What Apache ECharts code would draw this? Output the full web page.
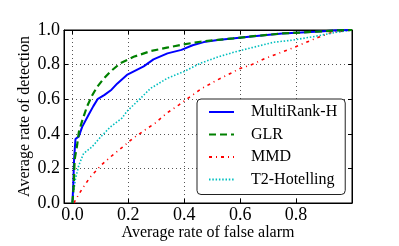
<!DOCTYPE html>
<html>
<head>
<meta charset="utf-8">
<script src="https://cdn.jsdelivr.net/npm/echarts@6/dist/echarts.min.js"></script>
<style>html,body{margin:0;padding:0;background:#fff;}#c{width:399px;height:246px;}</style>
</head>
<body>
<div id="c"></div>
<script>
var seriesNames = ['MultiRank-H', 'GLR', 'MMD', 'T2-Hotelling'];
var xTicks = [0, 0.2, 0.4, 0.6, 0.8];
var yTicks = [0, 0.2, 0.4, 0.6, 0.8, 1.0];

var multiRank = [[0,0],[0.003,0.1],[0.006,0.25],[0.011,0.37],[0.023,0.385],[0.035,0.44],[0.058,0.51],[0.075,0.56],[0.09,0.60],[0.115,0.625],[0.14,0.655],[0.16,0.69],[0.195,0.74],[0.255,0.79],[0.29,0.83],[0.34,0.865],[0.39,0.885],[0.43,0.912],[0.47,0.93],[0.52,0.942],[0.58,0.952],[0.64,0.962],[0.75,0.98],[0.87,0.99],[0.95,0.998],[1.0,1.0]];
var glr = [[0,0],[0.005,0.1],[0.008,0.25],[0.017,0.335],[0.023,0.41],[0.035,0.475],[0.052,0.556],[0.07,0.62],[0.088,0.67],[0.11,0.715],[0.136,0.76],[0.171,0.807],[0.219,0.845],[0.28,0.878],[0.338,0.898],[0.398,0.917],[0.457,0.932],[0.52,0.943],[0.576,0.952],[0.64,0.963],[0.75,0.98],[0.87,0.99],[0.95,0.998],[1.0,1.0]];
var mmd = [[0.005,0],[0.011,0.016],[0.023,0.05],[0.037,0.087],[0.064,0.15],[0.1,0.214],[0.136,0.266],[0.177,0.32],[0.213,0.369],[0.255,0.417],[0.296,0.462],[0.338,0.52],[0.38,0.566],[0.421,0.614],[0.463,0.662],[0.517,0.71],[0.558,0.743],[0.6,0.778],[0.642,0.80],[0.689,0.836],[0.737,0.865],[0.785,0.894],[0.832,0.926],[0.88,0.958],[0.93,0.987],[1.0,1.0]];
var t2 = [[0,0],[0.005,0.07],[0.011,0.14],[0.023,0.218],[0.04,0.286],[0.07,0.324],[0.1,0.38],[0.136,0.44],[0.177,0.49],[0.195,0.53],[0.243,0.604],[0.279,0.662],[0.308,0.69],[0.338,0.72],[0.398,0.759],[0.457,0.807],[0.517,0.842],[0.576,0.871],[0.642,0.898],[0.719,0.929],[0.79,0.942],[0.874,0.965],[0.945,0.987],[1.0,1.0]];

var FONT = '"Liberation Serif", "DejaVu Serif", serif';
var chart = echarts.init(document.getElementById('c'), null, {renderer: 'canvas'});
var gridLine = {show: true, lineStyle: {color: '#555', type: [1, 3], width: 1}};
var opt = {
  animation: false,
  backgroundColor: '#fff',
  textStyle: {fontFamily: FONT, color: '#000'},
  grid: {left: 64, right: 47, top: 30, bottom: 43, show: true, borderColor: '#000', borderWidth: 1, backgroundColor: 'transparent'},
  xAxis: [{
    type: 'value', min: -0.03, max: 1.0,
    name: 'Average rate of false alarm', nameLocation: 'middle', nameGap: 22, nameMoveOverlap: false,
    nameTextStyle: {fontFamily: FONT, fontSize: 16, color: '#000'},
    axisLine: {show: true, onZero: false, lineStyle: {color: '#000', width: 1}},
    axisTick: {show: true, inside: true, length: 4, customValues: xTicks, lineStyle: {color: '#000'}},
    axisLabel: {show: true, customValues: xTicks, margin: 3, fontFamily: FONT, fontSize: 18, color: '#000', formatter: function (v) { return v.toFixed(1); }},
    splitLine: gridLine
  }, {
    type: 'value', min: -0.03, max: 1.0, position: 'top',
    axisLine: {show: true, onZero: false, lineStyle: {color: '#000'}},
    axisTick: {show: true, inside: true, length: 4, customValues: xTicks, lineStyle: {color: '#000'}},
    axisLabel: {show: false}, splitLine: {show: false}
  }],
  yAxis: [{
    type: 'value', min: 0, max: 1, interval: 0.2,
    name: 'Average rate of detection', nameLocation: 'middle', nameGap: 31, nameMoveOverlap: false,
    nameTextStyle: {fontFamily: FONT, fontSize: 16, color: '#000'},
    axisLine: {show: true, onZero: false, lineStyle: {color: '#000', width: 1}},
    axisTick: {show: true, inside: true, length: 4, lineStyle: {color: '#000'}},
    axisLabel: {show: true, margin: 4, fontFamily: FONT, fontSize: 18, color: '#000', formatter: function (v) { return v.toFixed(1); }},
    splitLine: gridLine
  }, {
    type: 'value', min: 0, max: 1, interval: 0.2, position: 'right',
    axisLine: {show: true, onZero: false, lineStyle: {color: '#000'}},
    axisTick: {show: true, inside: true, length: 4, lineStyle: {color: '#000'}},
    axisLabel: {show: false}, splitLine: {show: false}
  }],
  legend: {
    orient: 'vertical', left: 197, top: 99,
    itemWidth: 25, itemHeight: 16, itemGap: 6.5,
    padding: [5, 8, 7, 11],
    backgroundColor: '#fff', borderColor: '#222', borderWidth: 1, borderRadius: 4,
    itemStyle: {opacity: 0},
    textStyle: {fontFamily: FONT, fontSize: 16, color: '#000', padding: [0, 0, 0, 12]},
    data: seriesNames
  },
  series: [
    {name: seriesNames[0], type: 'line', data: multiRank, symbol: 'none', z: 4,
     lineStyle: {color: '#0000ff', width: 2}, itemStyle: {color: '#0000ff'}},
    {name: seriesNames[1], type: 'line', data: glr, symbol: 'none', z: 5,
     lineStyle: {color: '#008000', width: 2.2, type: [7, 4]}, itemStyle: {color: '#008000'}},
    {name: seriesNames[2], type: 'line', data: mmd, symbol: 'none', z: 3,
     lineStyle: {color: '#ff0000', width: 1.6, type: [3, 4, 1, 4]}, itemStyle: {color: '#ff0000'}},
    {name: seriesNames[3], type: 'line', data: t2, symbol: 'none', z: 3,
     lineStyle: {color: '#00bfbf', width: 1.6, type: [1.5, 1.8]}, itemStyle: {color: '#00bfbf'}}
  ]
};
chart.setOption(opt);
</script>
</body>
</html>
